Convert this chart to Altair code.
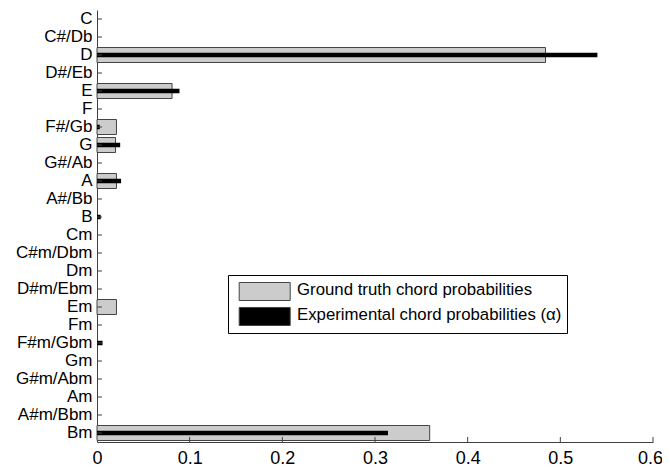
import altair as alt
import pandas as pd

categories = ["C", "C#/Db", "D", "D#/Eb", "E", "F", "F#/Gb", "G", "G#/Ab", "A",
              "A#/Bb", "B", "Cm", "C#m/Dbm", "Dm", "D#m/Ebm", "Em", "Fm",
              "F#m/Gbm", "Gm", "G#m/Abm", "Am", "A#m/Bbm", "Bm"]
ground_truth = [0, 0, 0.484, 0, 0.081, 0, 0.021, 0.020, 0, 0.021,
                0, 0, 0, 0, 0, 0, 0.021, 0,
                0, 0, 0, 0, 0, 0.359]
experimental = [0, 0, 0.540, 0, 0.089, 0, 0.003, 0.025, 0, 0.026,
                0, 0.004, 0, 0, 0, 0, 0, 0,
                0.006, 0, 0, 0, 0, 0.314]
x_tick_values = [0, 0.1, 0.2, 0.3, 0.4, 0.5, 0.6]

GT = "Ground truth chord probabilities"
EX = "Experimental chord probabilities (\u03b1)"

gt_df = pd.DataFrame({"chord": categories, "p": ground_truth, "series": GT})
gt_df = gt_df[gt_df["p"] > 0]
ex_df = pd.DataFrame({"chord": categories, "p": experimental, "series": EX})
ex_df = ex_df[ex_df["p"] > 0]
ytick_df = pd.DataFrame({"chord": categories})
xtick_df = pd.DataFrame({"p": x_tick_values[1:]})

FONT = "Liberation Sans"
AX = "#404040"
H = 432

y_scale = alt.Scale(domain=categories, paddingInner=0, paddingOuter=0)
x_scale = alt.Scale(domain=[0, 0.6], nice=False, zero=True)

y_enc = alt.Y("chord:N", scale=y_scale, title=None,
              axis=alt.Axis(ticks=False, domainColor=AX, domainWidth=1,
                            labelFont=FONT, labelFontSize=17, labelColor="black",
                            labelPadding=5, grid=False))
x_enc = alt.X("p:Q", scale=x_scale, title=None,
              axis=alt.Axis(values=x_tick_values, ticks=False, domainColor=AX,
                            domainWidth=1, labelFont=FONT, labelFontSize=18,
                            labelColor="black", labelPadding=7, grid=False,
                            labelFlush=False,
                            labelOffset={"condition": {"test": "datum.value >= 0.59", "value": -3},
                                         "value": 0},
                            labelExpr="datum.value == 0 ? '0' : format(datum.value, '.1f')"))
color_enc = alt.Color("series:N", title=None,
                      scale=alt.Scale(domain=[GT, EX], range=["#cccccc", "#000000"]),
                      legend=alt.Legend(orient="none", legendX=131, legendY=265,
                                        symbolType="M-0.367,-0.778H5.3V1.222H-0.367Z",
                                        symbolSize=324, symbolStrokeColor="#444444",
                                        symbolStrokeWidth=1, symbolOpacity=1,
                                        labelFont=FONT, labelFontSize=16.8,
                                        labelColor="black", labelOffset=45,
                                        labelLimit=400, rowPadding=2, padding=5,
                                        strokeColor="black", fillColor="white"))

gt_bars = alt.Chart(gt_df).mark_bar(size=15, stroke="#444444", strokeWidth=1).encode(
    x=x_enc, y=y_enc, color=color_enc)
ex_bars = alt.Chart(ex_df).mark_bar(size=4.5).encode(
    x="p:Q", y="chord:N", color="series:N")
yticks = alt.Chart(ytick_df).mark_rule(color=AX, strokeWidth=1).encode(
    y="chord:N", x=alt.value(0), x2=alt.value(5))
xticks = alt.Chart(xtick_df).mark_rule(color=AX, strokeWidth=1).encode(
    x="p:Q", y=alt.value(H), y2=alt.value(H - 5))

chart = alt.layer(gt_bars, ex_bars, yticks, xticks).properties(
    width=556, height=H,
    autosize=alt.AutoSizeParams(type="none"),
    padding={"left": 89, "top": 2, "right": 9, "bottom": 26},
).configure_view(stroke=None)

chart.save("out.html", embed_options={"renderer": "svg", "actions": False})
